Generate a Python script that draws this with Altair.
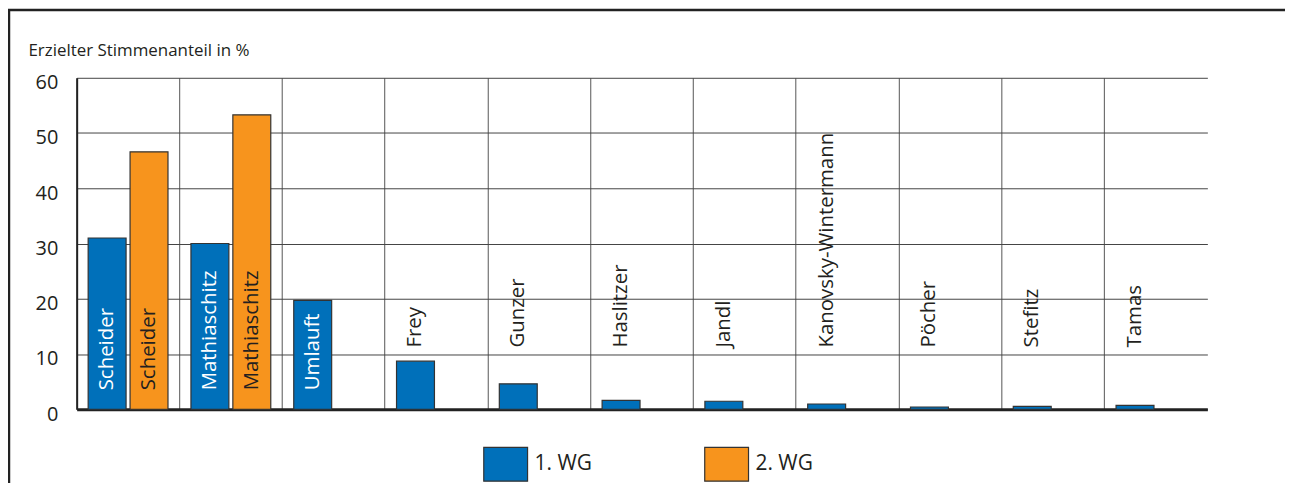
import altair as alt
import pandas as pd

candidates = ["Scheider", "Mathiaschitz", "Umlauft", "Frey", "Gunzer", "Haslitzer",
              "Jandl", "Kanovsky-Wintermann", "Pöcher", "Stefitz", "Tamas"]
wg1_values = [31.0, 30.0, 19.7, 8.7, 4.6, 1.6, 1.45, 0.95, 0.4, 0.5, 0.7]
wg2_candidates = ["Scheider", "Mathiaschitz"]
wg2_values = [46.6, 53.3]
series = ["1. WG", "2. WG"]
colors = ["#0070BA", "#F7941D"]
y_ticks = [0, 10, 20, 30, 40, 50, 60]

rows = [{"Kandidat": c, "Wahlgang": series[0], "Anteil": v} for c, v in zip(candidates, wg1_values)]
rows += [{"Kandidat": c, "Wahlgang": series[1], "Anteil": v} for c, v in zip(wg2_candidates, wg2_values)]
df = pd.DataFrame(rows)

FONT = "Open Sans"
DARK = "#231f20"
W, H = 1136, 333
PAD_B = 74

x = alt.X("Kandidat:N", sort=candidates,
          scale=alt.Scale(paddingInner=0, paddingOuter=0),
          axis=alt.Axis(title=None, labels=False, ticks=False, grid=True, bandPosition=0,
                        gridColor="#555", gridWidth=1, domainColor="#222", domainWidth=3))
xo = alt.XOffset("Wahlgang:N", sort=series,
                 scale=alt.Scale(domain=series, paddingInner=0.095, paddingOuter=0.274))
y = alt.Y("Anteil:Q", scale=alt.Scale(domain=[0, 60], nice=False),
          axis=alt.Axis(values=y_ticks, title="Erzielter Stimmenanteil in %", titleAngle=0,
                        titleX=-49, titleY=-22, titleAlign="left", titleBaseline="alphabetic",
                        titleFont=FONT, titleFontSize=17, titleFontWeight="normal", titleColor=DARK,
                        labelFont=FONT, labelFontSize=20, labelColor=DARK, labelPadding=19,
                        labelOffset=5, ticks=False, tickSize=0,
                        grid=True, gridColor="#444", gridWidth=1,
                        domainColor="#222", domainWidth=2))

base = alt.Chart(df)

bars = base.mark_bar(stroke="#333", strokeWidth=1.2).encode(
    x=x, xOffset=xo, y=y,
    color=alt.Color("Wahlgang:N", scale=alt.Scale(domain=series, range=colors),
                    legend=alt.Legend(title=None, orient="none", legendX=408, legendY=365,
                                      direction="horizontal",
                                      symbolType="M-1,-0.773H1V0.773H-1Z", symbolSize=1936,
                                      symbolStrokeColor="#333", symbolStrokeWidth=1.2,
                                      labelFont=FONT, labelFontSize=21, labelColor=DARK,
                                      labelOffset=6, columnPadding=110, padding=0))
)

txt_kw = dict(angle=270, align="left", baseline="middle", font=FONT, fontSize=20.5)

lab_in1 = base.transform_filter(
    (alt.datum.Anteil > 15) & (alt.datum.Wahlgang == series[0])
).mark_text(color="white", dx=19, **txt_kw).encode(
    x=alt.X("Kandidat:N", sort=candidates), xOffset=alt.XOffset("Wahlgang:N", sort=series),
    y=alt.datum(0), text="Kandidat:N")

lab_in2 = base.transform_filter(
    (alt.datum.Anteil > 15) & (alt.datum.Wahlgang == series[1])
).mark_text(color=DARK, dx=19, **txt_kw).encode(
    x=alt.X("Kandidat:N", sort=candidates), xOffset=alt.XOffset("Wahlgang:N", sort=series),
    y=alt.datum(0), text="Kandidat:N")

lab_out = base.transform_filter(
    alt.datum.Anteil <= 15
).mark_text(color=DARK, dx=62, **txt_kw).encode(
    x=alt.X("Kandidat:N", sort=candidates), xOffset=alt.XOffset("Wahlgang:N", sort=series),
    y=alt.datum(0), text="Kandidat:N")

frame_data = alt.Data(values=[{"f": 1}])
frame_v = alt.Chart(frame_data).mark_rule(color="#222", strokeWidth=2.5).encode(
    x=alt.value(-68), y=alt.value(-69), y2=alt.value(H + PAD_B))
frame_h = alt.Chart(frame_data).mark_rule(color="#222", strokeWidth=2.5).encode(
    x=alt.value(-69), x2=alt.value(W + 78), y=alt.value(-68))

chart = alt.layer(bars, lab_in1, lab_in2, lab_out, frame_v, frame_h).properties(
    width=W, height=H,
    autosize=alt.AutoSizeParams(type="none"),
    padding={"left": 69, "top": 69, "right": 78, "bottom": PAD_B},
    background="white",
).configure_view(stroke=None)

chart.save("out.html", embed_options={"renderer": "svg", "actions": False})
